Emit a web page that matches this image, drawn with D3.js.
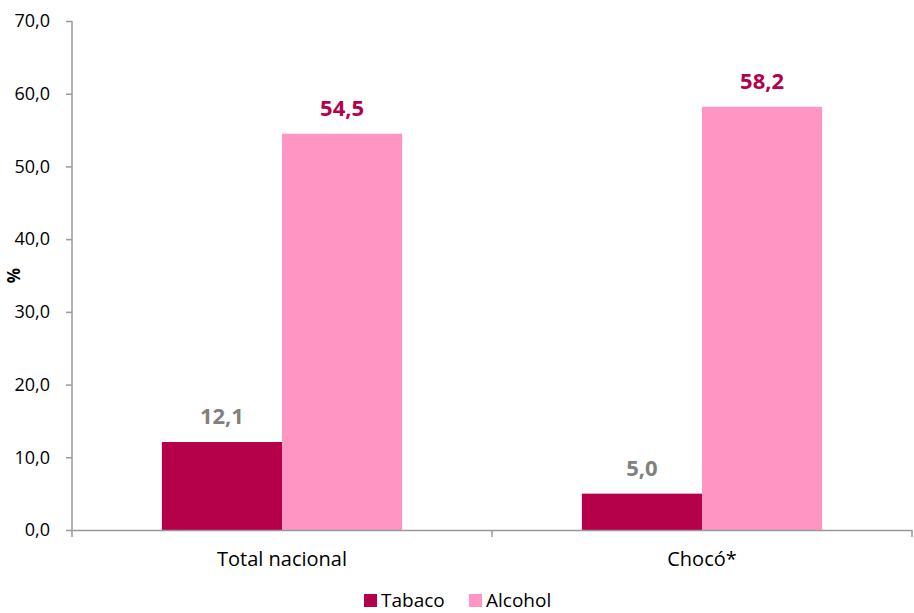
<!DOCTYPE html>
<html>
<head>
<meta charset="utf-8">
<script src="https://cdn.jsdelivr.net/npm/d3@7"></script>
<style>
  body { margin: 0; background: #fff; }
  text { font-family: "Open Sans", "Noto Sans", sans-serif; }
</style>
</head>
<body>
<div id="chart"></div>
<script>
var categories = ["Total nacional", "Chocó*"];
var seriesNames = ["Tabaco", "Alcohol"];
var tabaco = [12.1, 5.0];
var alcohol = [54.5, 58.2];
var yTicks = [0, 10, 20, 30, 40, 50, 60, 70];

var colors = { Tabaco: "#b5004a", Alcohol: "#ff95c3" };
var labelColors = { Tabaco: "#808080", Alcohol: "#b5004a" };

var width = 914, height = 613;
var margin = { top: 21, right: 2, bottom: 83, left: 72 };

var svg = d3.select("#chart").append("svg")
    .attr("width", width)
    .attr("height", height);

var g = svg.append("g")
    .attr("transform", "translate(" + margin.left + "," + margin.top + ")");

var innerW = width - margin.left - margin.right;
var innerH = height - margin.top - margin.bottom;

var x0 = d3.scaleBand()
    .domain(categories)
    .range([0, innerW])
    .paddingInner(0)
    .paddingOuter(0);

var x1 = d3.scaleBand()
    .domain(seriesNames)
    .range([x0.bandwidth() * 0.214, x0.bandwidth() * 0.786]);

var y = d3.scaleLinear()
    .domain([0, 70])
    .range([innerH, 0]);

var rows = categories.map(function (c, i) {
    return { cat: c, values: [
        { name: "Tabaco", value: tabaco[i] },
        { name: "Alcohol", value: alcohol[i] }
    ] };
});

var groups = g.selectAll(".grp")
    .data(rows)
    .enter().append("g")
    .attr("transform", function (d) { return "translate(" + x0(d.cat) + ",0)"; });

groups.selectAll("rect")
    .data(function (d) { return d.values; })
    .enter().append("rect")
    .attr("x", function (d) { return x1(d.name); })
    .attr("y", function (d) { return y(d.value); })
    .attr("width", x1.bandwidth())
    .attr("height", function (d) { return innerH - y(d.value); })
    .attr("fill", function (d) { return colors[d.name]; });

groups.selectAll(".val")
    .data(function (d) { return d.values; })
    .enter().append("text")
    .attr("x", function (d) { return x1(d.name) + x1.bandwidth() / 2; })
    .attr("y", function (d) { return y(d.value) - 18; })
    .attr("text-anchor", "middle")
    .style("font-size", "22px")
    .style("font-weight", "bold")
    .attr("fill", function (d) { return labelColors[d.name]; })
    .text(function (d) { return d.value.toFixed(1).replace(".", ","); });

// y axis
var yAxis = g.append("g")
    .call(d3.axisLeft(y).tickValues(yTicks).tickSize(6).tickPadding(16)
        .tickFormat(function (d) { return d.toFixed(1).replace(".", ","); }));
yAxis.select(".domain").attr("stroke", "#999").attr("stroke-width", 1.5)
    .attr("d", "M0," + (innerH + 7) + "V0");
yAxis.selectAll(".tick line").attr("stroke", "#999").attr("stroke-width", 1.5);
yAxis.selectAll(".tick text").style("font-size", "18px").attr("fill", "#000");

// x axis
var xAxis = g.append("g")
    .attr("transform", "translate(0," + innerH + ")")
    .call(d3.axisBottom(x0).tickSize(0).tickPadding(22));
xAxis.select(".domain").attr("stroke", "#999").attr("stroke-width", 1.5);
xAxis.selectAll(".tick text").style("font-size", "20px").attr("fill", "#000");
xAxis.selectAll(".sep")
    .data(categories)
    .enter().append("line")
    .attr("x1", function (d) { return x0(d) + x0.bandwidth(); })
    .attr("x2", function (d) { return x0(d) + x0.bandwidth(); })
    .attr("y1", 0).attr("y2", 7)
    .attr("stroke", "#999").attr("stroke-width", 1.5);

// y label
svg.append("text")
    .attr("transform", "translate(20," + (margin.top + y(35)) + ") rotate(-90)")
    .attr("text-anchor", "middle")
    .style("font-size", "17px")
    .style("font-weight", "bold")
    .text("%");

// legend
var legend = svg.append("g").attr("transform", "translate(364,594)");
var lx = [0, 105];
seriesNames.forEach(function (s, i) {
    legend.append("rect")
        .attr("x", lx[i]).attr("y", 0)
        .attr("width", 13).attr("height", 13)
        .attr("fill", colors[s]);
    legend.append("text")
        .attr("x", lx[i] + 17).attr("y", 13)
        .style("font-size", "19px")
        .attr("fill", "#000")
        .text(s);
});
</script>
</body>
</html>
